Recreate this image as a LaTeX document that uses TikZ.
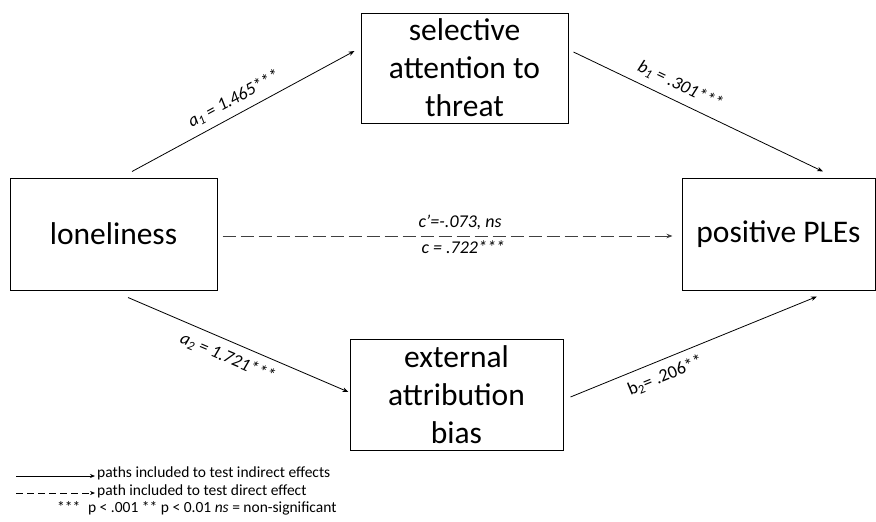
\documentclass[tikz,border=0pt]{standalone}
\usepackage{fontspec}
\setmainfont{Carlito}
\usetikzlibrary{calc,arrows.meta}
\begin{document}
\begin{tikzpicture}[x=1pt,y=-1pt,
  box/.style={draw, line width=1pt, inner sep=0pt, align=center,
    font=\fontsize{31.5}{38}\selectfont},
  patharrow/.style={line width=0.8pt, -{Stealth[length=6pt,width=4.5pt]}},
  dasharrow/.style={line width=0.8pt, black!75, dash pattern=on 13pt off 5pt,
    -{Stealth[length=6pt,width=4.5pt]}},
  lbl/.style={font=\fontsize{18}{21}\selectfont\itshape, sloped, inner sep=2pt},
  midlbl/.style={font=\fontsize{18}{21}\selectfont\itshape, inner sep=0pt, anchor=base},
  legtext/.style={font=\fontsize{15.5}{18}\selectfont, inner sep=0pt, anchor=base west},
  legarrow/.style={line width=0.8pt, -{Stealth[length=5pt,width=4pt]}},
  legdash/.style={line width=0.8pt, dash pattern=on 7pt off 4pt, -{Stealth[length=5pt,width=4pt]}},
]
\useasboundingbox (0,0) rectangle (876,522);

% boxes
\node[box, minimum width=207pt, minimum height=112pt] (lon) at (113.5,234) {loneliness};
\node[box, minimum width=193pt, minimum height=112pt] (ple) at (778.5,234) {positive PLEs};
\node[box, minimum width=207pt, minimum height=110pt] (sel) at (464.5,68) {selective\\attention to\\threat};
\node[box, minimum width=213pt, minimum height=111pt] (ext) at (456.5,394.5) {external\\attribution\\bias};

% paths
\draw[patharrow] ($(lon.north)+(18.5,-6)$) --
  node[lbl, above=5pt, pos=0.49] {a\textsubscript{1} = 1.465***}
  ($(sel.west)+(-6,-17)$);
\draw[patharrow] ($(sel.east)+(5,-16)$) --
  node[lbl, above=6pt, pos=0.40] {b\textsubscript{1} = .301***}
  ($(ple.north)+(44.5,-6)$);
\draw[patharrow] ($(lon.south)+(14.5,7)$) --
  node[lbl, below=6pt, pos=0.48] {a\textsubscript{2} = 1.721***}
  ($(ext.west)+(-1,-2.5)$);
\draw[patharrow] ($(ext.east)+(7,2.5)$) --
  node[lbl, below=6pt, pos=0.36, font=\fontsize{18}{21}\selectfont\upshape] {b\textsubscript{2}= .206**}
  ($(ple.south)+(38.5,6)$);
\draw[dasharrow] ($(lon.east)+(5,2)$) --
  node[midlbl, black, pos=0.528, yshift=9pt] {c’=-.073, ns}
  node[midlbl, black, pos=0.535, yshift=-17pt] {c = .722***}
  ($(ple.west)+(-9,2)$);

% legend
\coordinate (l1s) at (16,476);
\coordinate (l1e) at (95,476);
\coordinate (l2s) at (16,493);
\coordinate (l2e) at (95,493);
\draw[legarrow] (l1s) -- (l1e);
\draw[legdash] (l2s) -- (l2e);
\node[legtext] (t1) at (97,477) {paths included to test indirect effects};
\node[legtext] (t2) at (97,495) {path included to test direct effect};
\node[legtext] (t3) at (57,512) {***\enspace p < .001 ** p < 0.01 \textit{ns} = non-significant};
\end{tikzpicture}
\end{document}
